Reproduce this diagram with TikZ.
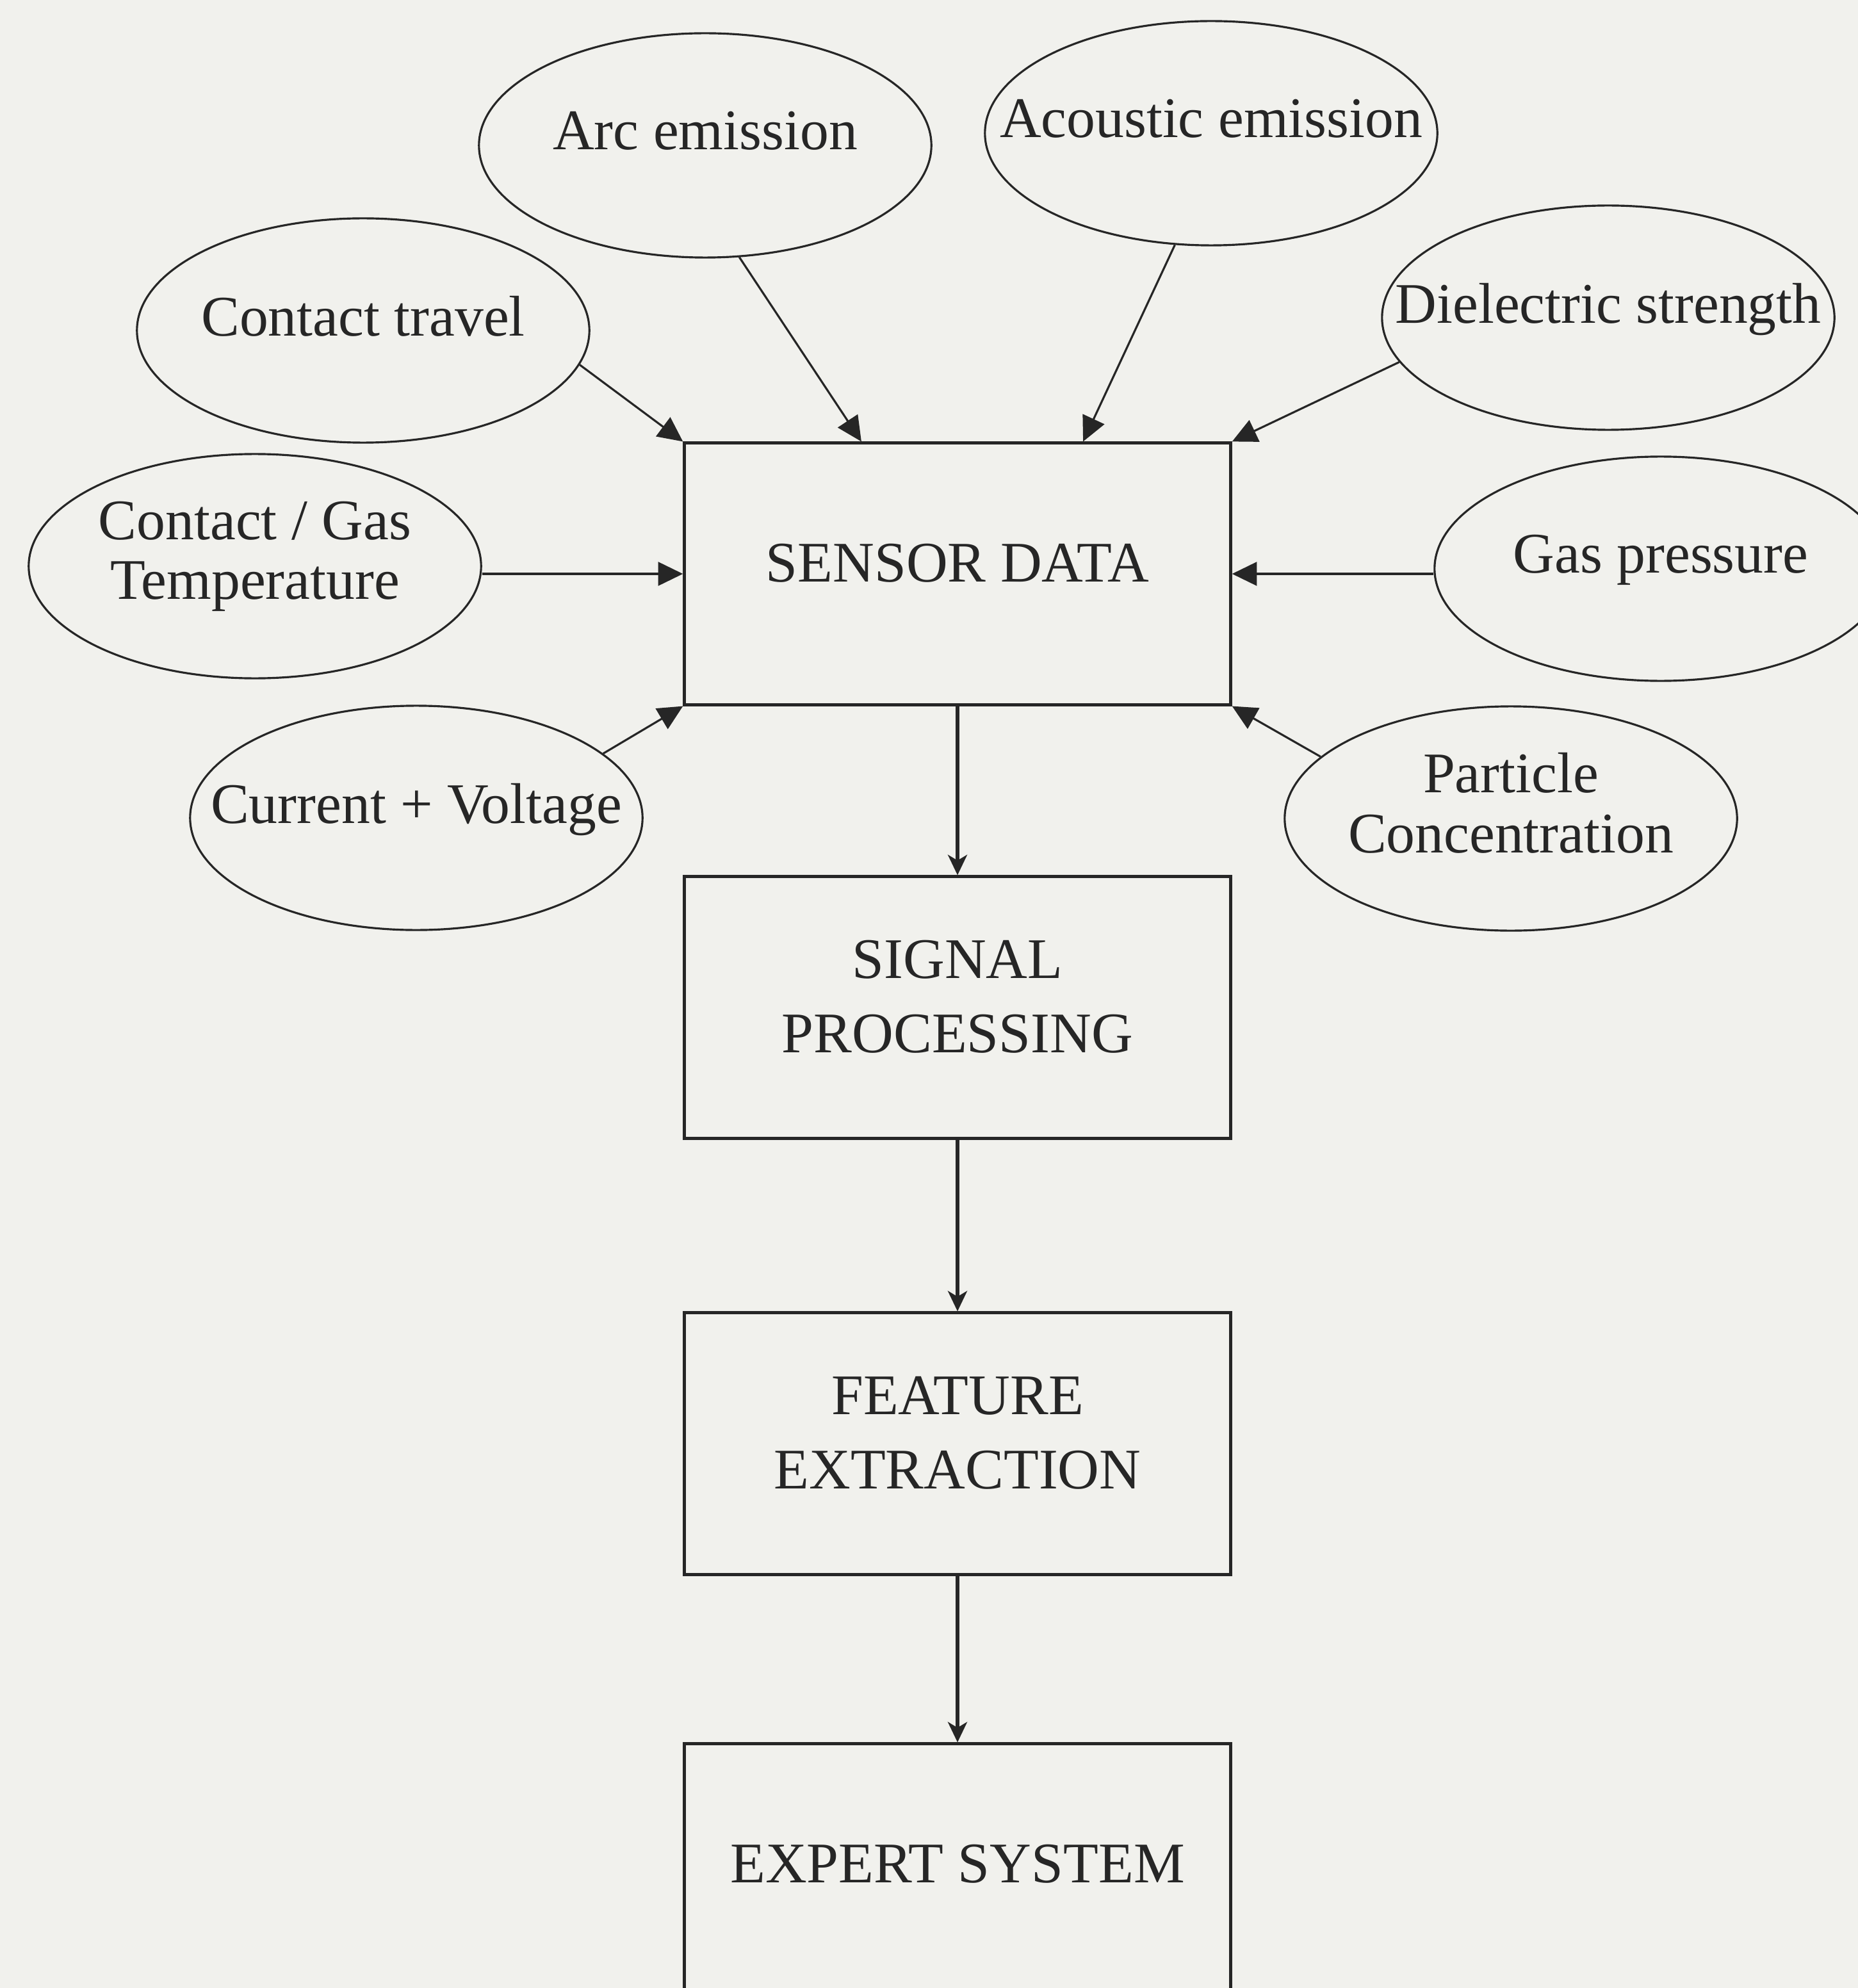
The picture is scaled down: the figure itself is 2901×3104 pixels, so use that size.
\documentclass[tikz,border=0pt]{standalone}
\usepackage{fontspec}
\setmainfont{Liberation Serif}
\usepackage{tikz}
\usetikzlibrary{arrows.meta}
\usetikzlibrary{shapes.geometric}
\usetikzlibrary{calc}
\definecolor{paper}{RGB}{241,241,237}
\definecolor{ink}{RGB}{38,38,38}
\newcommand\linewd{1.4pt}
\newcommand\ringwidth{0.9pt}
\newcommand\feedwidth{0.9pt}
\newcommand\flowwidth{1.8pt}
\newcommand\labelfont{\fontsize{25.5}{26.5}\selectfont}
\newcommand\stagefont{\fontsize{25.5}{33}\selectfont}
\tikzset{>={Triangle[length=11pt,width=10.5pt]}}
\tikzstyle{source}   = [ellipse, draw=ink, line width=\ringwidth, minimum width=7.06cm,
  minimum height=3.5cm, inner sep=0pt]
\tikzstyle{srclabel} = [inner sep=0pt, align=center, font=\labelfont, text=ink, text depth=13pt]
\tikzstyle{stage}    = [rectangle, draw=ink, line width=\linewd, minimum width=8.52cm,
  minimum height=4.08cm, inner sep=0pt, align=center, font=\stagefont, text=ink, text depth=10pt]
\tikzstyle{feed}     = [draw=ink, line width=\feedwidth]
\tikzstyle{flow}     = [draw=ink, line width=\flowwidth, -{Stealth[length=9pt,width=8.5pt,inset=2.5pt]}]

\begin{document}
\begin{tikzpicture}[x=0.01cm, y=-0.01cm]
  \useasboundingbox (0, 0) rectangle (2901, 3104);
  \clip (0, 0) rectangle (2901, 3104);
  \fill[paper] (0, 0) rectangle (2901, 3104);
  % processing chain
  \draw (1495, 896) node[stage] (sensor) {SENSOR DATA};
  \draw (1495, 1573) node[stage] (signal) {SIGNAL\\PROCESSING};
  \draw (1495, 2254) node[stage] (feature) {FEATURE\\EXTRACTION};
  \draw (1495, 2927) node[stage] (expert) {EXPERT SYSTEM};
  % measured quantities
  \draw (1101, 227) node[source, label={[srclabel]center:Arc emission}] (arc) {};
  \draw (1891, 208) node[source, label={[srclabel]center:Acoustic emission}] (acoustic) {};
  \draw (567, 516) node[source, label={[srclabel]center:Contact travel}] (travel) {};
  \draw (2511, 496) node[source, label={[srclabel]center:Dielectric strength}] (dielectric) {};
  \draw (398, 884) node[source,
    label={[srclabel, text depth=14pt]center:Contact / Gas\\Temperature}] (temp) {};
  \draw (2593, 888) node[source, label={[srclabel]center:Gas pressure}] (gas) {};
  \draw (650, 1277) node[source, label={[srclabel]center:Current + Voltage}] (current) {};
  \draw (2359, 1278) node[source,
    label={[srclabel, text depth=14pt]center:Particle\\Concentration}] (particle) {};
  % feeds into the sensor data
  \draw[feed] (sensor.north west) -- (travel.-9) [<-];
  \draw[feed] ([xshift=-1.5cm]sensor.north) -- (arc.-73) [<-];
  \draw[feed] ([xshift=1.96cm]sensor.north) -- (acoustic.-108) [<-];
  \draw[feed] (sensor.north east) -- (dielectric.-168) [<-];
  \draw[feed] (sensor.west) -- (sensor.west -| temp.east) [<-];
  \draw[feed] (sensor.east) -- (sensor.east -| gas.west) [<-];
  \draw[feed] (sensor.south west) -- (current.19) [<-];
  \draw[feed] (sensor.south east) -- (particle.162) [<-];
  % down the chain
  \draw[flow] (sensor) -- (signal);
  \draw[flow] (signal) -- (feature);
  \draw[flow] (feature) -- (expert);
\end{tikzpicture}
\end{document}
